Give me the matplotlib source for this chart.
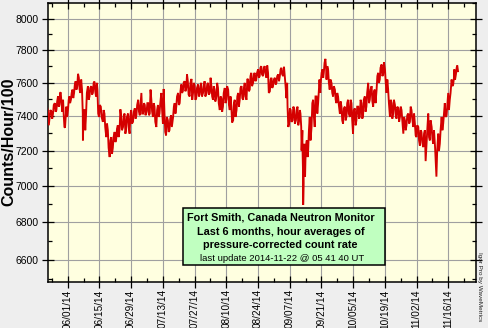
import numpy as np
import matplotlib
matplotlib.use("Agg")
import matplotlib.pyplot as plt
from matplotlib.ticker import FixedLocator, FixedFormatter, NullFormatter
from matplotlib.patches import Rectangle

plt.rcParams['font.family'] = ['Liberation Sans', 'DejaVu Sans']

# ---- data: days after 2014-06-01, per-interval low / high (counts/hour/100) ----
days = [-9.3, -8.5, -7.8, -7.0, -6.3, -5.5, -4.8, -4.1, -3.5, -2.9, -2.2, -1.6, -1.0, -0.4,
        0.3, 0.9, 1.6, 2.3, 3.0, 3.7, 4.4, 5.1, 5.8, 6.5, 6.9, 7.6, 8.3, 9.1, 9.8, 10.6,
        11.3, 12.0, 12.7, 13.3, 14.0, 14.8, 15.7, 16.4, 17.2, 17.9, 18.7, 19.4, 20.1, 20.9,
        21.6, 22.3, 23.1, 23.8, 24.6, 25.3, 26.0, 26.8, 27.5, 28.2, 29.0, 29.8, 30.5, 31.3,
        32.0, 32.7, 33.5, 34.2, 35.0, 35.7, 36.4, 37.1, 37.8, 38.5, 39.3, 40.0, 40.7, 41.5,
        42.2, 42.9, 43.6, 44.4, 45.1, 45.8, 46.7, 47.4, 48.1, 48.9, 49.6, 50.3, 51.0, 51.8,
        52.5, 53.2, 54.0, 54.8, 55.5, 56.2, 56.9, 57.7, 58.4, 59.1, 59.9, 60.6, 61.4, 62.1,
        62.9, 63.6, 64.3, 65.0, 65.8, 66.5, 67.3, 68.0, 68.7, 69.5, 70.2, 71.0, 71.7, 72.4,
        73.2, 73.9, 74.7, 75.4, 76.1, 76.9, 77.6, 78.3, 79.1, 79.8, 80.5, 81.2, 82.0, 82.7,
        83.4, 84.2, 84.9, 85.6, 86.4, 87.1, 87.9, 88.6, 89.4, 90.1, 90.8, 91.6, 92.3, 93.1,
        93.8, 94.5, 95.3, 96.0, 96.7, 97.2, 97.9, 98.6, 99.4, 100.1, 100.9, 101.6, 102.3,
        102.9, 103.4, 103.8, 104.1, 104.6, 105.1, 105.7, 106.3, 107.0, 107.8, 108.5, 109.2,
        110.0, 110.7, 111.3, 111.9, 112.6, 113.2, 113.9, 114.4, 115.1, 115.8, 116.6, 117.3,
        118.1, 118.8, 119.5, 120.3, 121.0, 121.7, 122.5, 123.2, 123.9, 124.7, 125.4, 126.1,
        126.9, 127.6, 128.4, 129.1, 129.8, 130.5, 131.3, 132.0, 132.8, 133.5, 134.3, 135.0,
        135.7, 136.5, 137.2, 137.9, 138.7, 139.4, 140.2, 140.9, 141.6, 142.4, 143.1, 143.8,
        144.6, 145.3, 146.1, 146.8, 147.5, 148.3, 149.0, 149.7, 150.5, 151.2, 151.9, 152.7,
        153.4, 154.1, 154.9, 155.6, 156.3, 157.1, 157.8, 158.6, 159.3, 160.0, 160.8, 161.5,
        162.3, 162.9, 163.7, 164.4, 165.2, 165.9, 166.6, 167.4, 168.1, 168.8, 169.6, 170.3,
        170.8, 171.5, 172.1]

lows = [7337, 7347, 7396, 7386, 7416, 7427, 7437, 7457, 7467, 7478, 7427, 7337, 7333, 7396,
        7437, 7478, 7498, 7508, 7539, 7559, 7580, 7559, 7539, 7416, 7259, 7318, 7416, 7498, 7518, 7529,
        7539, 7549, 7518, 7416, 7396, 7396, 7367, 7337, 7278, 7216, 7163, 7181, 7216, 7249,
        7269, 7278, 7327, 7318, 7337, 7298, 7327, 7337, 7298, 7357, 7367, 7386, 7406, 7427,
        7406, 7416, 7416, 7406, 7427, 7406, 7416, 7427, 7396, 7367, 7337, 7396, 7416, 7437,
        7357, 7308, 7288, 7308, 7318, 7337, 7396, 7416, 7457, 7467, 7478, 7539, 7549, 7549,
        7569, 7529, 7518, 7498, 7539, 7498, 7508, 7518, 7529, 7518, 7539, 7518, 7539, 7529,
        7539, 7518, 7498, 7488, 7518, 7478, 7437, 7427, 7457, 7478, 7498, 7467, 7437, 7363,
        7376, 7396, 7437, 7457, 7498, 7508, 7498, 7518, 7498, 7549, 7559, 7580, 7600, 7610,
        7620, 7631, 7641, 7651, 7641, 7661, 7631, 7539, 7549, 7569, 7580, 7590, 7600, 7610,
        7641, 7651, 7641, 7580, 7508, 7337, 7357, 7367, 7376, 7357, 7376, 7347, 7376,
        7337, 7200, 7015, 6895, 7052, 7145, 7163, 7200, 7259, 7337, 7396, 7337,
        7416, 7478, 7539, 7610, 7631, 7661, 7682, 7620, 7600, 7559, 7539, 7518,
        7498, 7478, 7467, 7416, 7376, 7357, 7376, 7396, 7416, 7396, 7376, 7298,
        7347, 7376, 7386, 7396, 7386, 7396, 7427, 7457, 7478, 7498, 7488, 7457,
        7478, 7559, 7600, 7620, 7641, 7651, 7600, 7539, 7478, 7396, 7386, 7416,
        7406, 7386, 7367, 7396, 7376, 7298, 7318, 7347, 7357, 7367, 7386, 7337,
        7288, 7278, 7259, 7229, 7249, 7220, 7140, 7259, 7278, 7259, 7269, 7239,
        7117, 7052, 7200, 7239, 7318, 7357, 7396, 7406, 7437, 7498, 7580, 7590,
        7620, 7651, 7671]

highs = [7457, 7427, 7437, 7427, 7467, 7478, 7488, 7518, 7539, 7543, 7498, 7416, 7406, 7457,
         7498, 7518, 7539, 7559, 7590, 7610, 7655, 7631, 7620, 7559, 7437, 7437, 7539, 7580, 7569, 7580,
         7600, 7608, 7600, 7559, 7467, 7457, 7437, 7416, 7357, 7318, 7259, 7278, 7278, 7308,
         7327, 7347, 7441, 7396, 7406, 7416, 7396, 7416, 7406, 7437, 7427, 7447, 7467, 7498,
         7467, 7539, 7478, 7467, 7478, 7478, 7559, 7498, 7478, 7457, 7437, 7467, 7478, 7539,
         7563, 7416, 7396, 7376, 7386, 7406, 7457, 7478, 7518, 7539, 7549, 7590, 7600, 7610,
         7651, 7610, 7600, 7624, 7600, 7580, 7569, 7590, 7580, 7600, 7580, 7610, 7590, 7600,
         7631, 7580, 7580, 7559, 7600, 7569, 7518, 7508, 7539, 7569, 7580, 7559, 7518, 7457,
         7478, 7498, 7518, 7539, 7569, 7580, 7569, 7600, 7624, 7620, 7641, 7661, 7651, 7661,
         7661, 7682, 7692, 7702, 7692, 7702, 7706, 7661, 7620, 7631, 7620, 7631, 7641, 7651,
         7682, 7692, 7698, 7641, 7600, 7457, 7447, 7437, 7457, 7447, 7437, 7457, 7437,
         7416, 7318, 7220, 7200, 7239, 7239, 7259, 7318, 7396, 7478, 7498, 7518,
         7518, 7559, 7620, 7661, 7682, 7722, 7747, 7702, 7682, 7620, 7600, 7580,
         7559, 7539, 7518, 7488, 7457, 7447, 7457, 7478, 7498, 7498, 7478, 7437,
         7447, 7457, 7457, 7498, 7478, 7498, 7518, 7539, 7600, 7559, 7580, 7549,
         7559, 7641, 7661, 7692, 7712, 7726, 7682, 7620, 7559, 7498, 7478, 7498,
         7467, 7457, 7447, 7457, 7437, 7396, 7376, 7406, 7416, 7457, 7437, 7416,
         7357, 7347, 7337, 7318, 7308, 7298, 7318, 7337, 7416, 7376, 7337, 7318,
         7220, 7200, 7298, 7318, 7396, 7416, 7478, 7467, 7539, 7539, 7620, 7631,
         7682, 7692, 7706]

x_tick_days = [0, 14, 28, 42, 56, 70, 84, 98, 112, 126, 140, 154, 168]
x_tick_labels = ['06/01/14', '06/15/14', '06/29/14', '07/13/14', '07/27/14', '08/10/14',
                 '08/24/14', '09/07/14', '09/21/14', '10/05/14', '10/19/14', '11/02/14',
                 '11/16/14']
y_ticks = [6600, 6800, 7000, 7200, 7400, 7600, 7800, 8000]
y_minor = [6500, 6700, 6900, 7100, 7300, 7500, 7700, 7900, 8100]

title_lines = ['Fort Smith, Canada Neutron Monitor',
               'Last 6 months, hour averages of',
               'pressure-corrected count rate']
update_line = 'last update 2014-11-22 @ 05 41 40 UT'
ylabel = 'Counts/Hour/100'
credit = 'Igor Pro by WaveMetrics'

# ---- figure ----
W, H = 488, 328
fig = plt.figure(figsize=(W / 100, H / 100), dpi=100)
fig.patch.set_facecolor('#EEEEEE')
fx = lambda px: px / W
fy = lambda py: 1 - py / H

L, R, T, B = 47.5, 476, 3, 281.7
ax = fig.add_axes([fx(L), fy(B), (R - L) / W, (B - T) / H])
ax.set_facecolor('#FFFFE0')

# zigzag trace through interval lows/highs
xs, ys = [], []
for i, (d, lo, hi) in enumerate(zip(days, lows, highs)):
    xs += [d - 0.17, d + 0.17]
    ys += [lo, hi] if i % 2 == 0 else [hi, lo]
ax.plot(xs, ys, color='#D40000', lw=1.35, solid_joinstyle='miter', zorder=3)

ax.set_yscale('log')
ax.set_ylim(6485, 8100)
ax.set_xlim(-8.9, 180.2)

ax.yaxis.set_major_locator(FixedLocator(y_ticks))
ax.yaxis.set_major_formatter(FixedFormatter([str(v) for v in y_ticks]))
ax.yaxis.set_minor_locator(FixedLocator(y_minor))
ax.yaxis.set_minor_formatter(NullFormatter())

ax.xaxis.set_major_locator(FixedLocator(x_tick_days))
ax.xaxis.set_major_formatter(FixedFormatter(x_tick_labels))
ax.xaxis.set_minor_locator(FixedLocator([d + 7 for d in [-14] + x_tick_days]))
ax.xaxis.set_minor_formatter(NullFormatter())

ax.grid(True, which='major', color='#A0A0A0', lw=0.8)
ax.set_axisbelow(True)

ax.tick_params(axis='both', which='major', direction='inout', length=8, width=0.9,
               color='black', top=True, right=True, labelsize=7.5)
ax.tick_params(axis='both', which='minor', direction='in', length=3, width=0.9,
               color='black', top=True, right=True)
ax.tick_params(axis='y', which='major', pad=2.5)
ax.tick_params(axis='x', which='major', pad=1.5, labelsize=7.2, labelrotation=90)
for lbl in ax.get_xticklabels():
    lbl.set_va('top')

for s in ax.spines.values():
    s.set_color('black')
    s.set_linewidth(1.1)

fig.text(fx(8.5), fy(141.5), ylabel, rotation=90, ha='center', va='center',
         fontsize=11.5, fontweight='bold')

# annotation box
bx0, bx1, by0, by1 = 182.5, 385, 207.5, 265
fig.add_artist(Rectangle((fx(bx0), fy(by1)), (bx1 - bx0) / W, (by1 - by0) / H,
                         transform=fig.transFigure, facecolor='#C0FFC0',
                         edgecolor='black', lw=1.1, zorder=5))
cx = fx(280.5)
for txt, yb in zip(title_lines, [220.7, 235.0, 248.3]):
    fig.text(cx, fy(yb), txt, ha='center', va='baseline', fontsize=7.8,
             fontweight='bold', zorder=6)
fig.text(cx + fx(2), fy(261), update_line, ha='center', va='baseline', fontsize=6.8, zorder=6)

fig.text(fx(479.5), fy(251.7), credit, rotation=-90, ha='center', va='top',
         fontsize=4.6, color='#222222')

fig.savefig('out.png', dpi=100, facecolor=fig.get_facecolor())
